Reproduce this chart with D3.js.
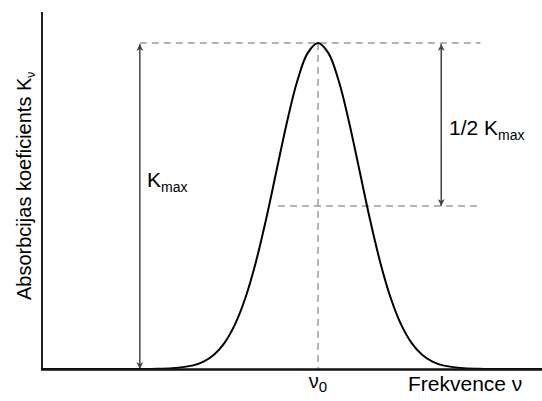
<!DOCTYPE html>
<html><head><meta charset="utf-8">
<script src="https://cdn.jsdelivr.net/npm/d3@7/dist/d3.min.js"></script>
<style>body{margin:0;background:#fff}svg{display:block;font-family:"Liberation Sans",Arial,sans-serif}</style>
</head><body><svg id="c" width="542" height="401"></svg>
<script>
// frequency offsets from line centre (in units of line width sigma)
const freq = [-6.63,-4.0,-3.5,-3.0,-2.75,-2.5,-2.25,-2.0,-1.75,-1.5,-1.25,-1.0,-0.75,-0.5,-0.25,0,
              0.25,0.5,0.75,1.0,1.25,1.5,1.75,2.0,2.25,2.5,2.75,3.0,3.5,4.0,5.38];
// absorption coefficient relative to K_max
const absorb = [0,0.0003,0.0022,0.0111,0.0228,0.0439,0.0796,0.1353,0.2163,0.3247,0.4578,0.6065,0.7548,0.8825,0.969,1,
                0.969,0.8825,0.7548,0.6065,0.4578,0.3247,0.2163,0.1353,0.0796,0.0439,0.0228,0.0111,0.0022,0.0003,0];
const nu0 = 0, kMax = 1, kHalf = 0.5;
const arrowLeftX = -4.28, arrowRightX = 2.96;
const topDash = [-4.28, 3.9], halfDash = [-0.96, 3.9];

const svg = d3.select("#c");
const x = d3.scaleLinear().domain([-6.63, 5.38]).range([42, 542]);
const y = d3.scaleLinear().domain([0, 1]).range([369, 43]);

const defs = svg.append("defs");
defs.append("marker").attr("id","ah").attr("viewBox","0 0 10 10").attr("refX",10).attr("refY",5)
  .attr("markerWidth",7).attr("markerHeight",7).attr("markerUnits","userSpaceOnUse").attr("orient","auto-start-reverse")
  .append("path").attr("d","M0,0 L10,5 L0,10 L3,5 Z").attr("fill","#444");

const dash = {stroke:"#9a9a9a","stroke-width":1.5,"stroke-dasharray":"7,5"};
function dline(x1,y1,x2,y2){const l=svg.append("line").attr("x1",x1).attr("y1",y1).attr("x2",x2).attr("y2",y2);
  for(const k in dash) l.attr(k,dash[k]); return l;}
dline(x(topDash[0]), y(kMax), x(topDash[1]), y(kMax));
dline(x(halfDash[0]), y(kHalf), x(halfDash[1]), y(kHalf));
dline(x(nu0), y(kMax), x(nu0), y(0));

// arrows
svg.append("line").attr("x1",x(arrowLeftX)).attr("x2",x(arrowLeftX)).attr("y1",y(0)).attr("y2",y(kMax)+1)
  .attr("stroke","#444").attr("stroke-width",1.5).attr("marker-start","url(#ah)").attr("marker-end","url(#ah)");
svg.append("line").attr("x1",x(arrowRightX)).attr("x2",x(arrowRightX)).attr("y1",y(kHalf)).attr("y2",y(kMax)+1)
  .attr("stroke","#444").attr("stroke-width",1.5).attr("marker-start","url(#ah)").attr("marker-end","url(#ah)");

// curve
const pts = freq.map((f,i)=>[f,absorb[i]]);
svg.append("path").datum(pts).attr("fill","none").attr("stroke","#000").attr("stroke-width",2)
  .attr("d", d3.line().x(d=>x(d[0])).y(d=>y(d[1])).curve(d3.curveCatmullRom.alpha(0.5)));

// axes
svg.append("line").attr("x1",42).attr("x2",42).attr("y1",12).attr("y2",370).attr("stroke","#222").attr("stroke-width",2);
svg.append("line").attr("x1",41).attr("x2",542).attr("y1",369.5).attr("y2",369.5).attr("stroke","#111").attr("stroke-width",2.5);

// labels
const t1 = svg.append("text").attr("x",147).attr("y",187).attr("font-size",21).attr("fill","#000");
t1.append("tspan").text("K");
t1.append("tspan").attr("font-size",14).attr("dy",5).text("max");

const t2 = svg.append("text").attr("x",449).attr("y",135).attr("font-size",21).attr("fill","#000");
t2.append("tspan").text("1/2 K");
t2.append("tspan").attr("font-size",14).attr("dy",5).text("max");

const t3 = svg.append("text").attr("x",x(nu0)).attr("y",388).attr("text-anchor","middle").attr("font-size",20);
t3.append("tspan").text("ν");
t3.append("tspan").attr("font-size",15).attr("dy",4).text("0");

svg.append("text").attr("x",408).attr("y",391).attr("font-size",21).text("Frekvence ν");

const t4 = svg.append("text").attr("transform","translate(31,300) rotate(-90)").attr("font-size",20);
t4.append("tspan").text("Absorbcijas koeficients K");
t4.append("tspan").attr("font-size",12).attr("dy",4).text("ν");
</script></body></html>
